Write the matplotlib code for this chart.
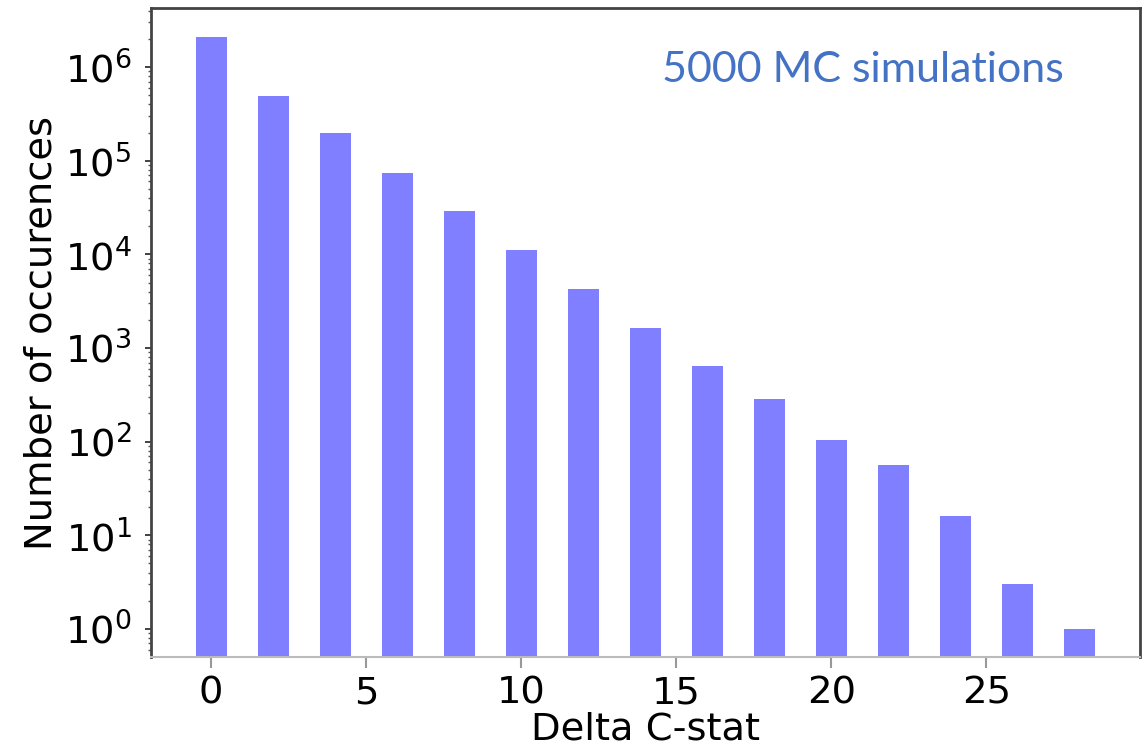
import matplotlib
matplotlib.use("Agg")
import matplotlib.pyplot as plt
from matplotlib.ticker import LogLocator, NullFormatter

# Histogram of Delta C-stat from the Monte Carlo runs
delta_cstat = [0, 2, 4, 6, 8, 10, 12, 14, 16, 18, 20, 22, 24, 26, 28]
occurrences = [2.10e6, 4.94e5, 1.96e5, 7.44e4, 2.90e4, 1.11e4, 4230, 1620,
               647, 282, 105, 57, 16, 3, 1]
x_ticks = [0, 5, 10, 15, 20, 25]

FS = 27.7

fig = plt.figure(figsize=(11.45, 7.51), dpi=100)
ax = fig.add_axes([0.1319, 0.1252, 0.8637, 0.8641])

ax.bar(delta_cstat, occurrences, width=1.0, color="blue", alpha=0.5,
       linewidth=0)
ax.set_yscale("log")
ax.set_xlim(-1.94, 29.96)
ax.set_ylim(0.502, 4.27e6)

ax.set_xticks(x_ticks)
ax.yaxis.set_major_locator(LogLocator(base=10, numticks=20))
ax.yaxis.set_minor_locator(LogLocator(base=10, subs=range(2, 10), numticks=50))
ax.yaxis.set_minor_formatter(NullFormatter())

ax.tick_params(axis="y", which="major", length=4, width=1.3, pad=10,
               labelsize=FS, color="#333333")
ax.tick_params(axis="y", which="minor", length=2.5, width=1.0, color="#555555")
ax.tick_params(axis="x", which="major", length=8, width=1.5, pad=5,
               labelsize=FS, color="#999999")

ax.set_xlabel("Delta C-stat", fontsize=FS, labelpad=0)
ax.set_ylabel("Number of occurences", fontsize=FS, labelpad=4)

for side in ("left", "top", "right"):
    ax.spines[side].set_color("#444444")
    ax.spines[side].set_linewidth(2.0)
ax.spines["bottom"].set_color("#bbbbbb")
ax.spines["bottom"].set_linewidth(1.5)

ax.text(0.72, 0.905, "5000 MC simulations", transform=ax.transAxes,
        fontsize=31, color="#4472C4", family="Lato", ha="center", va="center")

fig.savefig("out.png", dpi=100)
